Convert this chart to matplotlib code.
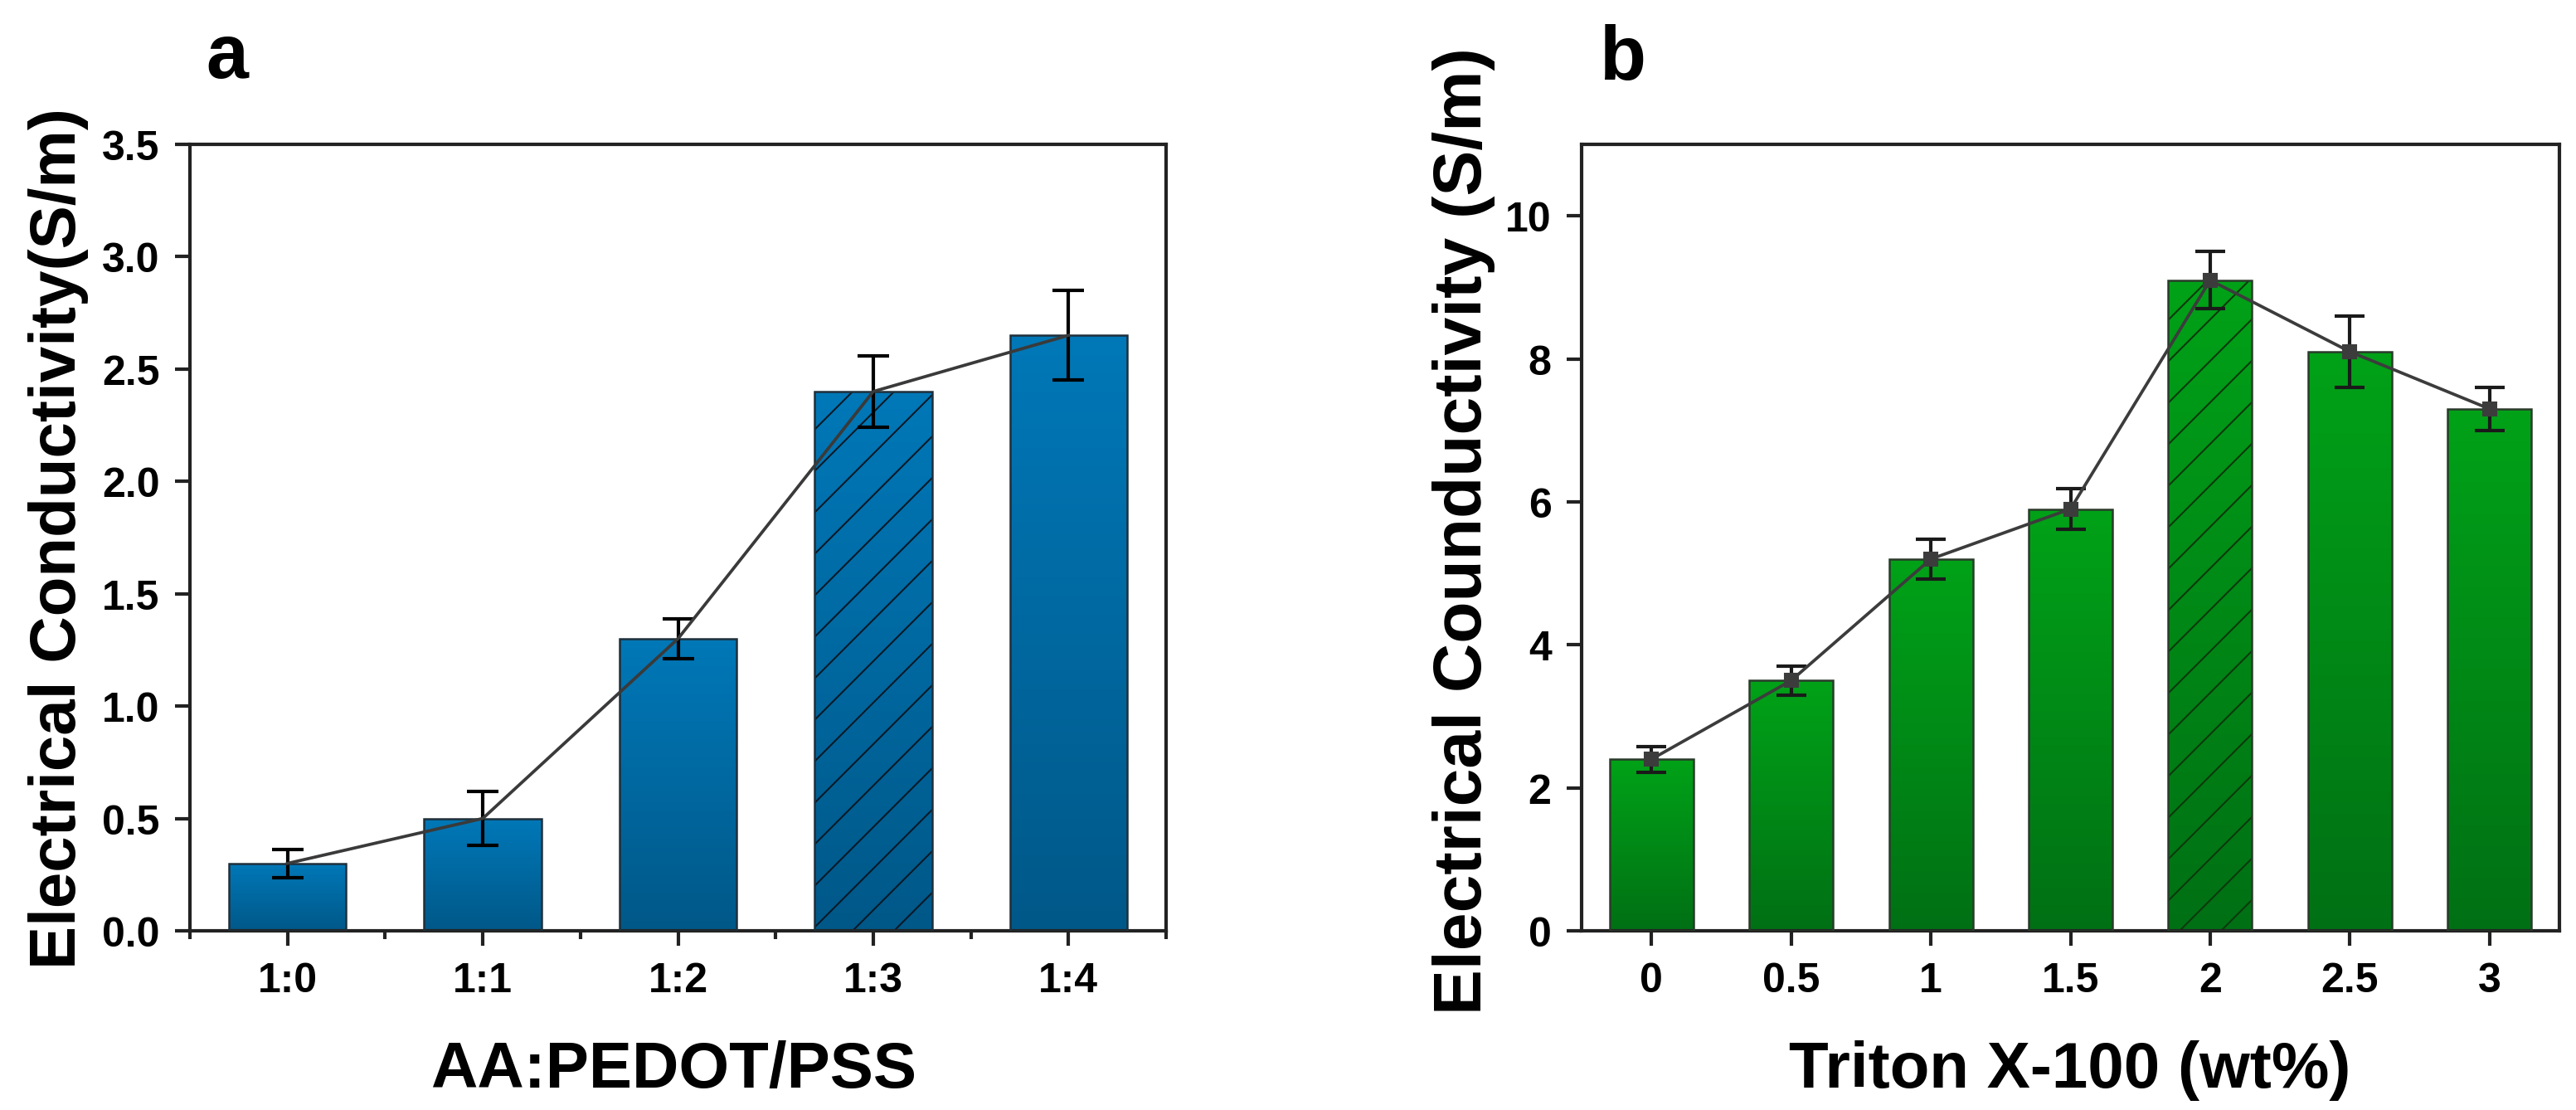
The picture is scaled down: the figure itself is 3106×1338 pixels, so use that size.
import numpy as np
import matplotlib
matplotlib.use("Agg")
import matplotlib.pyplot as plt
from matplotlib.colors import LinearSegmentedColormap

# ---------------- data ----------------
ratio_labels = ["1:0", "1:1", "1:2", "1:3", "1:4"]
ratio_values = [0.30, 0.50, 1.30, 2.40, 2.65]
ratio_errors = [0.063, 0.12, 0.09, 0.16, 0.20]
ratio_hatched = 3

triton_labels = ["0", "0.5", "1", "1.5", "2", "2.5", "3"]
triton_values = [2.4, 3.5, 5.2, 5.9, 9.1, 8.1, 7.3]
triton_errors = [0.18, 0.20, 0.28, 0.28, 0.40, 0.50, 0.30]
triton_hatched = 4

DPI = 150
W, H = 3106, 1339
plt.rcParams['font.family'] = ['Liberation Sans', 'DejaVu Sans']
plt.rcParams['font.weight'] = 'bold'
plt.rcParams['hatch.linewidth'] = 1.0

fig = plt.figure(figsize=(W / DPI, H / DPI), dpi=DPI)

def px_axes(l, r, t, b):
    return fig.add_axes([l / W, 1 - b / H, (r - l) / W, (b - t) / H])

axa = px_axes(229, 1406, 175, 1123)
axb = px_axes(1907, 3086, 175, 1123)


def gradient_bars(ax, values, width, ctop, cbot, edge, hatch_idx, hatch_color):
    x = np.arange(len(values))
    bars = ax.bar(x, values, width, facecolor='none', edgecolor=edge,
                  linewidth=1.2, zorder=3)
    cmap = LinearSegmentedColormap.from_list('g', [cbot, ctop])
    grad = np.linspace(0, 1, 256).reshape(-1, 1)
    for b in bars:
        x0, w, h = b.get_x(), b.get_width(), b.get_height()
        im = ax.imshow(grad, extent=[x0, x0 + w, 0, h], origin='lower',
                       cmap=cmap, aspect='auto', zorder=2, interpolation='bilinear')
        im.set_clip_path(b)
    ax.bar([x[hatch_idx]], [values[hatch_idx]], width, fill=False,
           hatch='/', edgecolor=hatch_color, linewidth=0, zorder=2.5)
    return x


def style(ax):
    for s in ax.spines.values():
        s.set_linewidth(2.0)
        s.set_color('#222222')
    ax.tick_params(axis='both', which='major', direction='out', length=8.5,
                   width=2.0, labelsize=24, color='#222222')
    ax.tick_params(axis='y', pad=9)
    ax.tick_params(axis='x', pad=9.5)
    ax.tick_params(top=False, right=False)
    for lab in ax.get_xticklabels() + ax.get_yticklabels():
        lab.set_fontweight('bold')


# ---------------- panel a ----------------
xa = gradient_bars(axa, ratio_values, 0.6, '#0078B8', '#005888', '#1f2f3a',
                   ratio_hatched, '#0a1a28')
axa.errorbar(xa, ratio_values, yerr=ratio_errors, fmt='-', color='#3a3a3a',
             lw=1.8, ecolor='black', elinewidth=2.0, capsize=9, capthick=2.0,
             zorder=4)
axa.set_xlim(-0.5, 4.5)
axa.set_ylim(0, 3.5)
axa.set_xticks(xa)
axa.set_xticklabels(ratio_labels)
axa.set_xticks(np.arange(-0.5, 5.0, 1.0), minor=True)
axa.set_yticks(np.arange(0, 3.51, 0.5))
axa.set_yticklabels([f"{v:.1f}" for v in np.arange(0, 3.51, 0.5)])
style(axa)
axa.tick_params(axis='x', which='minor', direction='out', length=4.6, width=2.0,
                color='#222222')
axa.tick_params(axis='y', which='minor', left=False)

# ---------------- panel b ----------------
xb = gradient_bars(axb, triton_values, 0.6, '#00A218', '#007014', '#2a3a2a',
                   triton_hatched, '#0c3a0c')
axb.errorbar(xb, triton_values, yerr=triton_errors, fmt='-s', color='#3c3c3c',
             lw=1.8, ms=8, ecolor='#1a1a1a', elinewidth=2.0, capsize=8.5,
             capthick=2.0, zorder=4)
axb.set_xlim(-0.5, 6.5)
axb.set_ylim(0, 11)
axb.set_xticks(xb)
axb.set_xticklabels(triton_labels)
axb.set_yticks([0, 2, 4, 6, 8, 10])
style(axb)

# ---------------- labels ----------------
fig.text(71 / W, 1 - 649 / H, "Electrical Conductivity(S/m)", rotation=90,
         ha='center', va='center', fontsize=37.5, fontweight='bold')
fig.text(812 / W, 1 - 1291 / H, "AA:PEDOT/PSS", ha='center', va='center',
         fontsize=37.5, fontweight='bold')
fig.text(1765 / W, 1 - 640 / H, "Electrical Counductivity (S/m)", rotation=90,
         ha='center', va='center', fontsize=39.5, fontweight='bold')
fig.text(2496 / W, 1 - 1291 / H, "Triton X-100 (wt%)", ha='center', va='center',
         fontsize=37.5, fontweight='bold')

fig.text(248 / W, 1 - 94 / H, "a", ha='left', va='baseline', fontsize=44,
         fontweight='bold')
fig.text(1929 / W, 1 - 96 / H, "b", ha='left', va='baseline', fontsize=44,
         fontweight='bold')

fig.savefig("out.png", dpi=DPI, facecolor='white')
